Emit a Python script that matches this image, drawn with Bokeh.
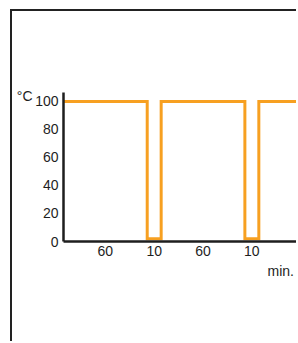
import numpy as np
from bokeh.plotting import figure
from bokeh.models import Range1d, FixedTicker, LinearAxis
from bokeh.embed import file_html
from bokeh.resources import INLINE

# Data
durations = [60, 10, 60, 10, 27]          # minutes per phase
temps = [100, 2, 100, 2, 100]            # °C per phase
y_ticks = [0, 20, 40, 60, 80, 100]
x_tick_labels = ["60", "10", "60", "10"]
y_unit = "°C"
x_unit = "min."

edges = np.concatenate([[0], np.cumsum(durations)])
xs, ys = [], []
for i, t in enumerate(temps):
    xs += [edges[i], edges[i + 1]]
    ys += [t, t]
centers = [(edges[i] + edges[i + 1]) / 2 for i in range(len(x_tick_labels))]

FONT = "Liberation Sans"
DARK = "#1e1e1e"
ORANGE = "#f7a021"
FS = "14px"

p = figure(width=286, height=332, output_backend="svg", toolbar_location=None,
           x_range=Range1d(0, float(edges[-1])), y_range=Range1d(0, 106.4),
           min_border_left=51, min_border_top=81, min_border_bottom=102,
           min_border_right=2)
p.margin = (9, 0, 0, 10)
p.styles = {"border-top": "2px solid #222", "border-left": "2px solid #222"}
p.outline_line_color = None
p.grid.visible = False

p.line(xs, ys, line_color=ORANGE, line_width=3, line_join="miter")

# unit axes (label only), stacked outside the main axes
ux = LinearAxis(ticker=FixedTicker(ticks=[155.7]),
                major_label_overrides={155.7: x_unit})
uy = LinearAxis(ticker=FixedTicker(ticks=[103.6]),
                major_label_overrides={103.6: y_unit})
p.add_layout(ux, "below")
p.add_layout(uy, "left")

def style(ax, standoff=5):
    ax.axis_line_color = DARK
    ax.axis_line_width = 2.5
    ax.major_tick_line_color = None
    ax.minor_tick_line_color = None
    ax.major_tick_out = 0
    ax.major_tick_in = 0
    ax.major_label_text_font = FONT
    ax.major_label_text_font_size = FS
    ax.major_label_text_color = DARK
    ax.major_label_standoff = standoff

style(p.xaxis[0], 4)
style(p.yaxis[0], 5)
style(ux, 4)
style(uy, 0)
ux.axis_line_color = None
uy.axis_line_color = None

p.yaxis[0].ticker = FixedTicker(ticks=y_ticks)
p.xaxis[0].ticker = FixedTicker(ticks=centers)
p.xaxis[0].major_label_overrides = {c: l for c, l in zip(centers, x_tick_labels)}

open("out.html", "w").write(file_html(p, INLINE))
